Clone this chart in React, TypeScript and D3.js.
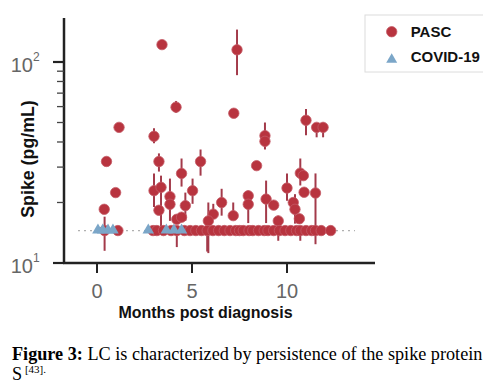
import React from "react";
import * as d3 from "d3";

// ---- data ----
const LOD = 14.5;
const pascMonths: number[] = [
  3.42, 7.37, 4.16, 7.2, 1.16, 3.0, 0.5, 3.26, 4.45, 5.45,
  0.98, 0.38, 3.0, 3.37, 3.84, 3.84, 4.65, 5.03, 3.26, 4.2,
  4.45, 6.56, 7.96, 7.96, 8.4, 8.84, 8.84, 8.9, 9.3, 10.0,
  10.33, 10.42, 10.65, 10.7, 10.86, 10.9, 11.5, 11.0, 11.56, 11.9,
  6.12, 7.17, 5.86, 9.54,
  // at detection limit
  0.4, 1.1, 2.95, 3.15, 3.5, 3.9, 4.2, 4.6, 4.9, 5.2, 5.5, 5.8, 6.1, 6.4,
  6.7, 7.0, 7.3, 7.5, 7.7, 8.0, 8.2, 8.5, 8.8, 9.0, 9.3, 9.6, 9.9, 10.2,
  10.5, 10.7, 11.0, 11.3, 11.5, 11.8, 12.3,
];
const pascValues: number[] = [
  122, 115, 59.6, 55.6, 47.3, 42.7, 32, 32, 27.9, 32,
  22.4, 18.5, 22.9, 23.8, 21.4, 19.6, 19.3, 22.9, 18.3, 16.5,
  16.9, 20.0, 21.6, 19.6, 30.5, 43, 40.3, 20.8, 19.4, 23.6,
  20, 18.5, 16.6, 28, 27.2, 22.5, 22.3, 51.3, 47.3, 47.3,
  17.5, 17.2, 16.2, 16.2,
  LOD, LOD, LOD, LOD, LOD, LOD, LOD, LOD, LOD, LOD, LOD, LOD, LOD, LOD,
  LOD, LOD, LOD, LOD, LOD, LOD, LOD, LOD, LOD, LOD, LOD, LOD, LOD, LOD,
  LOD, LOD, LOD, LOD, LOD, LOD, LOD,
];
const pascLow: (number | null)[] = [
  null, 86, 56, null, null, 39.4, null, 28.5, 24.0, 27.2,
  null, null, 19.0, 15.0, 16.2, null, 16.2, 19.7, null, null,
  null, 17.2, null, 15.8, null, null, 36.7, 15.8, null, 20.4,
  null, 15.7, null, 24.3, null, null, 12.4, 43.2, 42.2, 42.2,
  null, null, 11.2, 12.9,
  11.5, null, null, null, null, null, 12.0, null, null, null, null, 11.4, null, null,
  null, null, null, null, null, null, null, null, null, null, null, null, null, null,
  null, 12.9, null, null, null, null, null,
];
const pascHigh: (number | null)[] = [
  null, 145, 64, null, null, 46.8, null, 35.1, 33.1, 36.7,
  null, null, 27.9, 27.2, 26.3, null, 22.4, 26.3, null, null,
  null, 23.4, 22.9, null, null, 50, null, 25.7, null, 27.9,
  null, 22, null, 33.1, null, null, 27.9, 58.3, null, 50,
  19.7, 20, 20, 17.2,
  17, null, null, null, null, null, null, null, null, null, null, null, null, null,
  null, null, null, null, null, null, null, null, null, null, null, null, null, null,
  null, null, null, null, null, null, null,
];
const covidMonths: number[] = [0.05, 0.3, 0.58, 0.84, 2.7, 3.65, 4.05, 4.45];
const covidValues: number[] = [LOD, LOD, LOD, LOD, LOD, LOD, LOD, LOD];
const xTicks: number[] = [0, 5, 10];
const yMajor: number[] = [10, 100];
const yMinor: number[] = [20, 30, 40, 50, 60, 70, 80, 90];
const seriesNames: string[] = ["PASC", "COVID-19"];

const RED = "#b8343f";
const RED_BAR = "#a33a4a";
const BLUE = "#7ba6c8";
const SANS = "'Liberation Sans', Arial, sans-serif";
const SERIF = "'Liberation Serif', 'Times New Roman', serif";

export default function App() {
  const x = d3.scaleLinear().domain([0, 10]).range([97, 287]);
  const y = d3.scaleLog().domain([10, 100]).range([263, 62]);
  const axisLeft = 64;
  const axisBottom = 263;
  const axisTop = 18;
  const axisRight = 375;
  const tri = d3.symbol().type(d3.symbolTriangle).size(58)();
  const legendTri = d3.symbol().type(d3.symbolTriangle).size(52)();

  return (
    <svg
      width={491}
      height={389}
      style={{ position: "absolute", left: 0, top: 0, background: "#fff" }}
    >
      <defs>
        <clipPath id="cl">
          <rect x={0} y={0} width={483} height={389} />
        </clipPath>
      </defs>
      <rect x={0} y={0} width={491} height={389} fill="#fff" />

      {/* LOD dotted line */}
      <line
        x1={78}
        x2={355}
        y1={y(LOD)}
        y2={y(LOD)}
        stroke="#b0b0b0"
        strokeWidth={1.3}
        strokeDasharray="2 4"
      />

      {/* error bars */}
      {pascMonths.map((m, i) => {
        const lo = pascLow[i] ?? pascValues[i];
        const hi = pascHigh[i] ?? pascValues[i];
        if (lo === hi) return null;
        return (
          <line
            key={"e" + i}
            x1={x(m)}
            x2={x(m)}
            y1={y(hi)}
            y2={y(lo)}
            stroke={RED_BAR}
            strokeWidth={2}
          />
        );
      })}

      {/* PASC points */}
      {pascMonths.map((m, i) => (
        <circle
          key={"p" + i}
          cx={x(m)}
          cy={y(pascValues[i])}
          r={5.2}
          fill={RED}
          stroke="#c45a66"
          strokeWidth={0.8}
        />
      ))}

      {/* COVID-19 points */}
      {covidMonths.map((m, i) => (
        <path
          key={"c" + i}
          d={tri ?? ""}
          transform={`translate(${x(m)},${y(covidValues[i]) - 0.5})`}
          fill={BLUE}
        />
      ))}

      {/* y axis */}
      <line x1={axisLeft} x2={axisLeft} y1={axisTop} y2={axisBottom + 1} stroke="#222" strokeWidth={2.5} />
      {yMinor.map((v) => (
        <line key={"ym" + v} x1={57} x2={axisLeft} y1={y(v)} y2={y(v)} stroke="#444" strokeWidth={1.3} />
      ))}
      {yMajor.map((v) => (
        <line key={"yM" + v} x1={53} x2={axisLeft} y1={y(v)} y2={y(v)} stroke="#222" strokeWidth={2.2} />
      ))}
      {yMajor.map((v) => (
        <text key={"yl" + v} x={33} y={y(v) + 10} fontFamily={SANS} fontSize={20} fill="#666" textAnchor="end">
          10
        </text>
      ))}
      {yMajor.map((v) => (
        <text key={"ys" + v} x={33} y={y(v) - 1} fontFamily={SANS} fontSize={12} fill="#666">
          {Math.round(Math.log10(v))}
        </text>
      ))}

      {/* x axis */}
      <line x1={axisLeft - 1} x2={axisRight} y1={axisBottom} y2={axisBottom} stroke="#222" strokeWidth={2.5} />
      {xTicks.map((t) => (
        <line key={"xt" + t} x1={x(t)} x2={x(t)} y1={axisBottom} y2={273} stroke="#222" strokeWidth={2} />
      ))}
      {xTicks.map((t) => (
        <text key={"xl" + t} x={x(t)} y={298} fontFamily={SANS} fontSize={20} fill="#666" textAnchor="middle">
          {t}
        </text>
      ))}

      {/* axis titles */}
      <text x={205.5} y={318} fontFamily={SANS} fontSize={16} fontWeight="bold" fill="#111" textAnchor="middle">
        Months post diagnosis
      </text>
      <text
        transform="translate(34,159) rotate(-90)"
        fontFamily={SANS}
        fontSize={17.8}
        fontWeight="bold"
        fill="#111"
        textAnchor="middle"
      >
        Spike (pg/mL)
      </text>

      {/* legend */}
      <g clipPath="url(#cl)">
        <rect x={365} y={15} width={140} height={57} fill="#fff" stroke="#dcdcdc" strokeWidth={1} />
        <circle cx={391.7} cy={31.7} r={5.2} fill={RED} stroke="#c45a66" strokeWidth={0.8} />
        <path d={legendTri ?? ""} transform="translate(391.7,59.5)" fill={BLUE} />
        <text x={410.7} y={37} fontFamily={SANS} fontSize={15} fontWeight="bold" fill="#111">
          {seriesNames[0]}
        </text>
        <text x={410.7} y={62} fontFamily={SANS} fontSize={15} fontWeight="bold" fill="#111">
          {seriesNames[1]}
        </text>
      </g>

      {/* caption */}
      <text x={12} y={360} fontFamily={SERIF} fontSize={18.2} fill="#000">
        <tspan fontWeight="bold">Figure 3:</tspan>
        <tspan> LC is characterized by persistence of the spike protein</tspan>
      </text>
      <text x={12} y={380} fontFamily={SERIF} fontSize={18.2} fill="#000">
        S
        <tspan fontSize={11} dy={-7}> [43].</tspan>
      </text>
    </svg>
  );
}
